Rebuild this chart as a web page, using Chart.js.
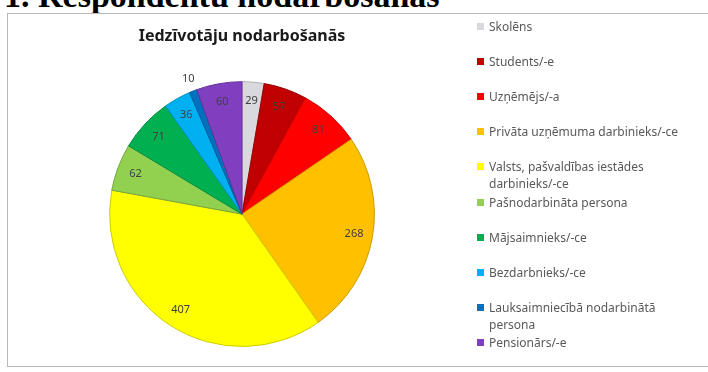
<!DOCTYPE html>
<html>
<head>
<meta charset="utf-8">
<script src="https://cdn.jsdelivr.net/npm/chart.js"></script>
<style>
	body{margin:0;background:#fff;width:708px;height:372px;overflow:hidden;position:relative;font-family:"Noto Sans",sans-serif;}
	.heading{position:absolute;left:4px;top:-21px;font:bold 34px "Liberation Serif",serif;line-height:34px;color:#000;white-space:nowrap;}
	.frame{position:absolute;left:7px;top:13px;width:710px;height:352px;border:1px solid #b8b8b8;background:#fff;}
	#pieChart{position:absolute;left:0;top:0;}
	.legend{position:absolute;left:477px;top:0;width:231px;}
	.legend-item{position:absolute;left:0;display:flex;align-items:flex-start;font-size:12px;line-height:17px;color:#595959;}
	.legend-item i{flex:none;width:7px;height:7px;margin:5px 5px 0 0;}
</style>
</head>
<body>
<div class="heading">1. Respondentu nodarbošanās</div>
<div class="frame"></div>
<canvas id="pieChart" width="484" height="372"></canvas>
<div class="legend" id="legend"></div>
<script>
const labels = ['Skolēns','Students/-e','Uzņēmējs/-a','Privāta uzņēmuma darbinieks/-ce','Valsts, pašvaldības iestādes darbinieks/-ce','Pašnodarbināta persona','Mājsaimnieks/-ce','Bezdarbnieks/-ce','Lauksaimniecībā nodarbinātā persona','Pensionārs/-e'];
const values = [29, 57, 81, 268, 407, 62, 71, 36, 10, 60];
const colors = ['#d9d9dd','#c00000','#ff0000','#ffc000','#ffff00','#92d050','#00b050','#00b0f0','#0070c0','#7f3fbf'];

function darker(hex, f){
	const n = parseInt(hex.slice(1),16);
	const r = Math.round(((n>>16)&255)*f), g = Math.round(((n>>8)&255)*f), b = Math.round((n&255)*f);
	return 'rgb('+r+','+g+','+b+')';
}

const valueLabels = {
	id:'valueLabels',
	afterDatasetsDraw(chart){
		const ctx = chart.ctx;
		const meta = chart.getDatasetMeta(0);
		ctx.save();
		ctx.font = '11px "Noto Sans", sans-serif';
		ctx.fillStyle = '#404040';
		ctx.textAlign = 'center';
		ctx.textBaseline = 'middle';
		meta.data.forEach((arc,i)=>{
			const p = arc.getProps(['x','y','startAngle','endAngle','outerRadius'], true);
			const mid = (p.startAngle + p.endAngle)/2;
			const small = (p.endAngle - p.startAngle) < 0.08;
			const r = p.outerRadius * (small ? 1.1 : 0.86);
			ctx.fillText(String(chart.data.datasets[0].data[i]), p.x + Math.cos(mid)*r, p.y + Math.sin(mid)*r);
		});
		ctx.restore();
	}
};

new Chart(document.getElementById('pieChart').getContext('2d'), {
	type:'pie',
	data:{
		labels: labels,
		datasets:[{ data: values, backgroundColor: colors, borderColor: colors.map(c=>darker(c,0.8)), borderWidth:1 }]
	},
	options:{
		responsive:false,
		animation:false,
		devicePixelRatio:1,
		layout:{ padding:{ top:0, bottom:25, left:0, right:0 } },
		plugins:{
			legend:{ display:false },
			tooltip:{ enabled:false },
			title:{ display:true, text:'Iedzīvotāju nodarbošanās', color:'#1a1a1a', font:{ family:'"Noto Sans", sans-serif', size:16, weight:'bold' }, padding:{ top:27, bottom:35 } }
		}
	},
	plugins:[valueLabels]
});

// legend built from the same arrays, wrapped entries get a narrower box
const legend = document.getElementById('legend');
labels.forEach((l,i)=>{
	const d = document.createElement('div');
	d.className = 'legend-item';
	d.style.top = (18 + i*35.1) + 'px';
	d.style.width = (i===4 || i===8) ? '200px' : '231px';
	d.innerHTML = '<i style="background:'+colors[i]+'"></i><span></span>';
	d.querySelector('span').textContent = l;
	legend.appendChild(d);
});
</script>
</body>
</html>
